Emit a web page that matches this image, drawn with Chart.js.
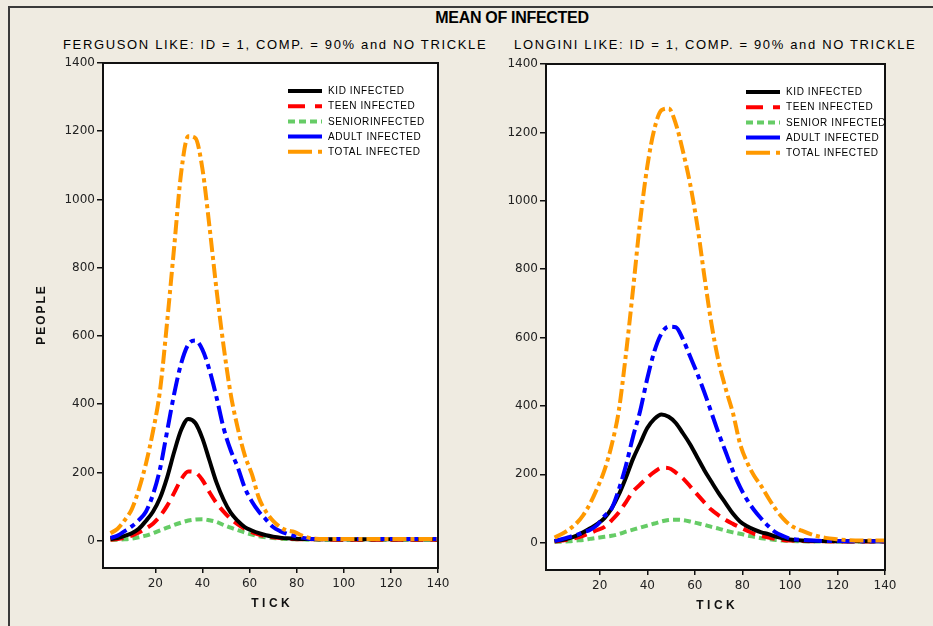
<!DOCTYPE html>
<html>
<head>
<meta charset="utf-8">
<title>Mean of infected</title>
<script src="https://cdn.jsdelivr.net/npm/chart.js@4.4.1/dist/chart.umd.min.js"></script>
<style>
  html, body { margin: 0; padding: 0; }
  body { width: 933px; height: 626px; overflow: hidden; position: relative; background: #efebe1; font-family: "Liberation Sans", Arial, sans-serif; color: #000; }
  #frame { position: absolute; left: 8px; top: 6px; width: 1000px; height: 700px; border-left: 2px solid #3a3a3a; border-top: 2px solid #3a3a3a; }
  #title { position: absolute; left: 312px; width: 400px; top: 9px; text-align: center; font-weight: bold; font-size: 16px; letter-spacing: -0.3px; }
  .sub { position: absolute; top: 37px; font-size: 13px; letter-spacing: 1.65px; white-space: nowrap; }
  .box { position: absolute; }
</style>
</head>
<body>
<div id="frame"></div>
<div id="title">MEAN OF INFECTED</div>
<div class="sub" style="left:63px">FERGUSON LIKE: ID = 1, COMP. = 90% and NO TRICKLE</div>
<div class="sub" style="left:514px">LONGINI LIKE: ID = 1, COMP. = 90% and NO TRICKLE</div>
<div class="box" style="left:0;top:53px"><canvas id="ferguson" width="466" height="573"></canvas></div>
<div class="box" style="left:466px;top:54px"><canvas id="longini" width="467" height="572"></canvas></div>
<script>
// sampled ticks (same for both runs)
const ticks = [1,4,7,10,13,16,19,22,25,28,31,34,37,40,43,46,49,52,55,58,61,64,67,70,73,76,79,82,85,88,91,94,97,100,105,110,115,120,125,130,135,140];
const yTicks = [0,200,400,600,800,1000,1200,1400];
const xTicks = [20,40,60,80,100,120,140];

const fergusonLabels = ['KID INFECTED','TEEN INFECTED','SENIORINFECTED','ADULT INFECTED','TOTAL INFECTED'];
const longiniLabels = ['KID INFECTED','TEEN INFECTED','SENIOR INFECTED','ADULT INFECTED','TOTAL INFECTED'];

// Ferguson like run
const fergusonKid = [5,8,14,22,35,58,85,125,185,260,325,357,345,300,235,170,120,82,58,40,30,22,16,12,9,7,6,5,5,5,4,4,4,4,4,4,4,4,4,4,4,4];
const fergusonTeen = [3,5,9,15,24,36,50,72,102,140,180,203,200,178,142,110,85,64,48,35,25,18,13,10,8,6,5,4,4,4,4,3,3,3,3,3,3,3,3,3,3,3];
const fergusonSenior = [2,3,4,6,10,15,22,30,38,46,53,59,62,63,60,55,46,38,31,24,18,13,10,8,6,5,4,4,3,3,3,3,3,3,3,3,3,3,3,3,3,3];
const fergusonAdult = [8,15,28,42,60,85,135,210,320,430,520,575,587,560,500,420,330,265,215,155,115,85,62,40,28,20,14,9,6,5,5,5,5,5,5,5,5,5,5,5,5,5];
const fergusonTotal = [22,35,60,92,150,225,320,440,640,860,1080,1185,1180,1090,920,735,570,430,330,250,195,125,85,58,40,30,26,16,9,6,5,5,5,5,5,5,5,5,5,5,5,5];

// Longini like run
const longiniKid = [5,8,13,20,30,42,55,72,100,140,190,245,290,335,362,375,368,350,320,288,250,212,178,145,115,85,62,48,38,30,25,18,13,9,6,5,5,4,4,4,4,4];
const longiniTeen = [3,6,9,14,20,28,37,46,65,88,118,150,170,190,207,219,218,205,188,165,141,118,96,80,66,55,45,35,26,20,15,11,8,6,5,4,4,3,3,3,3,3];
const longiniSenior = [2,3,4,6,8,11,14,17,20,25,32,38,44,50,56,62,66,67,66,62,57,52,46,41,35,30,26,21,17,13,10,8,6,5,4,3,3,3,3,3,3,3];
const longiniAdult = [5,10,16,22,30,38,52,78,100,155,225,310,385,480,560,612,632,630,595,545,495,440,380,320,265,210,163,125,95,70,48,30,20,12,8,6,5,5,4,4,4,4];
const longiniTotal = [15,25,38,55,80,115,160,212,285,385,550,740,940,1100,1210,1265,1270,1225,1145,1050,930,780,640,530,450,380,290,235,195,165,130,98,72,52,35,22,14,10,7,6,6,6];

// line look per series: kid, teen, senior, adult, total
const styles = [
  { color: '#000000', dash: [], legendDash: [], order: 2 },
  { color: '#ff0000', dash: [13, 7], legendDash: [17, 10, 7, 10], order: 3 },
  { color: '#66cc66', dash: [7, 4], legendDash: [7, 4], order: 4 },
  { color: '#0000ff', dash: [18, 5, 5, 5], legendDash: [], order: 1 },
  { color: '#ff9900', dash: [14, 4, 4, 4], legendDash: [24, 6, 4, 20], order: 0 }
];

function makeDatasets(labels, seriesList) {
  return seriesList.map((vals, i) => ({
    label: labels[i],
    data: vals.map((v, j) => ({ x: ticks[j], y: v })),
    borderColor: styles[i].color,
    borderDash: styles[i].dash,
    legendDash: styles[i].legendDash,
    borderWidth: 4,
    borderCapStyle: 'butt',
    pointRadius: 0,
    fill: false,
    cubicInterpolationMode: 'monotone',
    order: styles[i].order
  }));
}

// white plot area with a black box round it
const plotFrame = {
  id: 'plotFrame',
  beforeDraw(chart) {
    const { ctx, chartArea: a } = chart;
    ctx.save();
    ctx.fillStyle = '#ffffff';
    ctx.fillRect(a.left, a.top, a.width, a.height);
    ctx.restore();
  },
  afterDatasetsDraw(chart) {
    const { ctx, chartArea: a } = chart;
    ctx.save();
    ctx.strokeStyle = '#111';
    ctx.lineWidth = 2;
    ctx.strokeRect(a.left, a.top, a.width, a.height);
    ctx.restore();
  }
};

// legend drawn inside the plot, top right
const insideLegend = {
  id: 'insideLegend',
  afterDatasetsDraw(chart, args, opts) {
    const { ctx, chartArea: a } = chart;
    ctx.save();
    ctx.font = '10px "Liberation Sans", Arial, sans-serif';
    ctx.letterSpacing = '0.6px';
    ctx.textBaseline = 'middle';
    const x = a.left + opts.left;
    chart.data.datasets.forEach((ds, i) => {
      const y = a.top + opts.top + i * opts.step;
      ctx.strokeStyle = ds.borderColor;
      ctx.lineWidth = 4;
      ctx.setLineDash(ds.legendDash);
      ctx.beginPath();
      ctx.moveTo(x, y);
      ctx.lineTo(x + 34, y);
      ctx.stroke();
      ctx.setLineDash([]);
      ctx.fillStyle = '#000';
      ctx.fillText(ds.label, x + 40, y + 0.5);
    });
    ctx.restore();
  }
};

// spaced-out bold axis titles
const axisTitles = {
  id: 'axisTitles',
  afterDraw(chart, args, opts) {
    const { ctx, chartArea: a } = chart;
    ctx.save();
    ctx.font = 'bold 12px "Liberation Sans", Arial, sans-serif';
    ctx.fillStyle = '#111';
    ctx.textAlign = 'center';
    ctx.textBaseline = 'middle';
    ctx.letterSpacing = '3.5px';
    ctx.fillText(opts.xTitle, (a.left + a.right) / 2 + 1.75, a.bottom + 36);
    if (opts.yTitle) {
      ctx.letterSpacing = '2px';
      ctx.translate(a.left - 61, (a.top + a.bottom) / 2);
      ctx.rotate(-Math.PI / 2);
      ctx.fillText(opts.yTitle, 1, 0);
    }
    ctx.restore();
  }
};

const tickFont = { family: '"DejaVu Sans", sans-serif', size: 12 };

function drawRun(canvasId, labels, series, geo) {
  return new Chart(document.getElementById(canvasId), {
    type: 'line',
    data: { datasets: makeDatasets(labels, series) },
    options: {
      responsive: false,
      animation: false,
      layout: { padding: { top: 10, right: geo.padRight, left: 0, bottom: 0 } },
      scales: {
        x: {
          type: 'linear',
          min: geo.xMin,
          max: 140,
          afterBuildTicks: s => { s.ticks = xTicks.map(v => ({ value: v })); },
          afterFit: s => { s.height = geo.xHeight; },
          border: { display: false },
          grid: { drawOnChartArea: false, drawTicks: true, tickLength: 5, color: '#111', lineWidth: 1.5 },
          ticks: { padding: 4, color: '#222', font: tickFont, maxRotation: 0, autoSkip: false, callback: v => String(v) }
        },
        y: {
          min: -80,
          max: 1400,
          afterBuildTicks: s => { s.ticks = yTicks.map(v => ({ value: v })); },
          afterFit: s => { s.width = geo.yWidth; },
          border: { display: false },
          grid: { drawOnChartArea: false, drawTicks: true, tickLength: 6, color: '#111', lineWidth: 1.5 },
          ticks: { padding: 2, color: '#222', font: tickFont, callback: v => String(v) }
        }
      },
      plugins: {
        legend: { display: false },
        tooltip: { enabled: false },
        insideLegend: { left: geo.legendLeft, top: 28, step: 15.2 },
        axisTitles: { xTitle: 'TICK', yTitle: geo.yTitle }
      }
    },
    plugins: [plotFrame, insideLegend, axisTitles]
  });
}

drawRun('ferguson', fergusonLabels,
  [fergusonKid, fergusonTeen, fergusonSenior, fergusonAdult, fergusonTotal],
  { padRight: 28, yWidth: 103, xHeight: 58, xMin: -2.2, legendLeft: 185, yTitle: 'PEOPLE' });

drawRun('longini', longiniLabels,
  [longiniKid, longiniTeen, longiniSenior, longiniAdult, longiniTotal],
  { padRight: 48, yWidth: 80, xHeight: 56, xMin: -2.6, legendLeft: 200, yTitle: '' });
</script>
</body>
</html>
